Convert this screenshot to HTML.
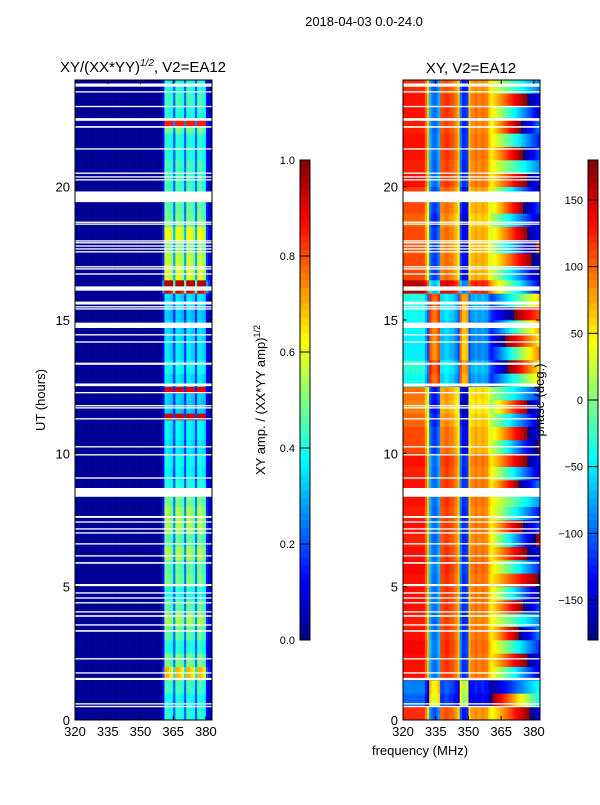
<!DOCTYPE html>
<html><head><meta charset="utf-8">
<style>
body{margin:0;background:#fff;}
svg text{font-family:"Liberation Sans","DejaVu Sans",sans-serif;fill:#000;}
</style></head>
<body>
<svg id="fig" width="600" height="800" xmlns="http://www.w3.org/2000/svg">
<rect width="600" height="800" fill="#fff"/>
<text x="364" y="26" font-size="13" text-anchor="middle">2018-04-03 0.0-24.0</text>
<text x="143" y="72" font-size="15" text-anchor="middle">XY/(XX*YY)<tspan font-size="10" dy="-6" font-style="italic">1/2</tspan><tspan dy="6">, V2=EA12</tspan></text>
<text x="471" y="73" font-size="15" text-anchor="middle">XY, V2=EA12</text>
<text transform="translate(45,400) rotate(-90)" font-size="13" text-anchor="middle">UT (hours)</text>
<text x="420" y="755" font-size="13" text-anchor="middle">frequency (MHz)</text>
<text transform="translate(265,400) rotate(-90)" font-size="13" text-anchor="middle">XY amp. / (XX*YY amp)<tspan font-size="9" dy="-5">1/2</tspan></text>
<g id="ampPanel"></g>
<g id="phasePanel"></g>
<g id="axes"></g>
<g id="cbars"></g>
<text transform="translate(544,400) rotate(-90)" font-size="13" text-anchor="middle">phase (deg.)</text>
</svg>
<script>
// frequency channels (MHz) and time bins
const freqStart = 320, freqCount = 63;           // 320..382 MHz, 1 MHz channels
// amplitude per frequency channel (relative, for band 361-382)
const ampFreq = [
0,0,0,0,0,0,0,0,0,0, 0,0,0,0,0,0,0,0,0,0, 0,0,0,0,0,0,0,0,0,0, 0,0,0,0,0,0,0,0,0,0,
0.3,1,1,0.95,0.9,0.5,1,1,0.95,0.9,0.5,1,1,0.95,0.9,0.5,1,1,0.95,0.9,0.3,0.2,0.15];
// amplitude per half-hour (0..24h) for bright band
const ampTime = [0.42,0.4,0.45,0.7,0.5,0.42,0.48,0.55,0.48,0.42,0.5,0.48,0.55,0.48,0.55,0.55,0.5,0.42,0.38,0.4,
0.36,0.38,0.38,0.33,0.34,0.36,0.4,0.36,0.36,0.35,0.33,0.36,0.92,0.6,0.58,0.52,0.62,0.5,0.48,0.45,
0.45,0.45,0.42,0.42,0.5,0.42,0.45,0.42];
// narrow bright rows [hour, amp]
const ampSpikes = [[12.35,0.9],[11.3,0.92],[16.4,0.95],[22.3,0.85]];
// background amplitude off-band
const ampBackground = 0.02;
// phase base per half-hour (deg)
const phaseTime = [120,-100,-90,130,130,135,130,125,130,130,130,135,130,125,130,125,130,130,125,130,
110,110,100,90,95,-40,-30,-50,-50,-45,-40,-35,160,110,110,105,110,100,110,115,
130,125,130,130,125,130,130,120];
// phase slope over the high band (deg per MHz), per half-hour
const phaseSlope = [8,-10,6,-9,8,-8,10,-6,9,-10,6,-8,8,-11,9,-8,-6,10,-9,8,
-10,9,-8,10,-6,8,-9,10,-8,9,-6,8,-10,-9,8,-10,9,-8,10,-9,
8,-6,9,-8,10,-9,8,-6];
// phase offset per frequency channel (deg)
const phaseFreq = [0,0,0,0,0,0,0,0,0,0,-30,-60,-200,-220,-230,-220,-200,-20,-20,-10,
-10,-20,-20,-30,-40,-60,-220,-250,-250,-240,-60,-40,-40,-30,-40,-40,-30,-40,-40,-60,
-80,-80,-80,-80,-80,-80,-80,-80,-80,-80,-80,-80,-80,-80,-80,-80,-80,-80,-80,-80,-80,-80,-80];
// flagged (white) time ranges in hours
const flags = [[23.75,23.87],[23.53,23.58],[22.98,23.03],[22.47,22.57],[22.21,22.27],[21.39,21.44],
[20.48,20.53],[20.34,20.39],[20.23,20.28],[19.42,19.82],[18.64,18.69],[18.57,18.62],
[17.94,17.99],[17.87,17.92],[17.75,17.8],[17.64,17.69],[17.53,17.58],[16.97,17.02],[16.89,16.94],
[16.7,16.75],[16.1,16.26],[15.58,15.69],[15.47,15.52],[15.39,15.44],[14.7,14.9],[14.42,14.47],
[14.15,14.2],[13.32,13.4],[12.52,12.62],[12.25,12.3],[11.76,11.81],[11.68,11.73],[11.27,11.32],
[10.22,10.27],[9.92,9.97],[9.05,9.1],[8.37,8.7],[7.58,7.65],[7.4,7.45],[7.14,7.19],[6.99,7.04],
[6.58,6.63],[6.13,6.18],[5.86,5.92],[5.02,5.1],[4.74,4.79],[4.55,4.6],[4.37,4.42],[4.03,4.08],
[3.87,3.93],[3.54,3.59],[3.31,3.37],[2.27,2.32],[1.74,1.79],[1.5,1.58],[0.58,0.63],[0.48,0.53]];
const ampTicks = [0,0.2,0.4,0.6,0.8,1.0];
const phaseTicks = [150,100,50,0,-50,-100,-150];
const xTicks = [320,335,350,365,380];
const yTicks = [0,5,10,15,20];

const NS="http://www.w3.org/2000/svg";
function mk(tag,attrs,parent){const e=document.createElementNS(NS,tag);for(const k in attrs)e.setAttribute(k,attrs[k]);parent.appendChild(e);return e;}
function jet(v){v=Math.max(0,Math.min(1,v));
 const r=Math.max(0,Math.min(1,1.5-Math.abs(4*v-3))),g=Math.max(0,Math.min(1,1.5-Math.abs(4*v-2))),b=Math.max(0,Math.min(1,1.5-Math.abs(4*v-1)));
 return `rgb(${Math.round(r*255)},${Math.round(g*255)},${Math.round(b*255)})`;}
const panels=[{x0:75,g:'ampPanel',name:'amp'},{x0:403,g:'phasePanel',name:'phase'}];
const W=137,yTop=80,yBot=720,fMin=320,fMax=382.8;
const xs=(x0,f)=>x0+(f-fMin)/(fMax-fMin)*W;
const ys=h=>yBot-h/24*(yBot-yTop);
const rowsPerHour=4;
for(const p of panels){
 const g=document.getElementById(p.g);
 for(let r=0;r<24*rowsPerHour;r++){
  const h0=r/rowsPerHour,h1=(r+1)/rowsPerHour,ti=Math.floor(h0*2);
  for(let c=0;c<freqCount;c++){
   const f=freqStart+c;let col;
   if(p.name==='amp'){
     let v=ampFreq[c]>0?ampFreq[c]*ampTime[ti]:ampBackground;
     for(const s of ampSpikes){if(s[0]>=h0&&s[0]<h1&&ampFreq[c]>0.5)v=s[1];}
     if(ampFreq[c]===0)v=ampBackground;
     col=jet(v);
   }else{
     let ph=phaseTime[ti]+phaseFreq[c]+(f>360?phaseSlope[ti]*(f-360):0);
     ph=((ph+180)%360+360)%360-180;
     col=jet((ph+180)/360);
   }
   const x=xs(p.x0,f),x2=xs(p.x0,Math.min(f+1,fMax));
   const cell=mk('rect',{x:x.toFixed(2),y:ys(h1).toFixed(2),width:(x2-x+0.3).toFixed(2),height:(ys(h0)-ys(h1)+0.3).toFixed(2),fill:col},g);
   
   
  }
 }
 for(const fl of flags){
  const fr=mk('rect',{x:p.x0,y:ys(fl[1]),width:W,height:ys(fl[0])-ys(fl[1]),fill:'#fff'},g);
  
  
 }
}
const ax=document.getElementById('axes');
for(const p of panels){
 const fr=mk('rect',{x:p.x0,y:yTop,width:W,height:yBot-yTop,fill:'none',stroke:'#000','stroke-width':1},ax);
 
 
 for(const t of xTicks){const x=xs(p.x0,t);
  mk('line',{x1:x,x2:x,y1:yBot,y2:yBot-4,stroke:'#000'},ax);mk('line',{x1:x,x2:x,y1:yTop,y2:yTop+4,stroke:'#000'},ax);
  const tl=mk('text',{x:x,y:yBot+16,'font-size':13,'text-anchor':'middle'},ax);tl.textContent=t;
  
  }
 for(const t of yTicks){const y=ys(t);
  mk('line',{x1:p.x0,x2:p.x0+4,y1:y,y2:y,stroke:'#000'},ax);mk('line',{x1:p.x0+W,x2:p.x0+W-4,y1:y,y2:y,stroke:'#000'},ax);
  const tl=mk('text',{x:p.x0-5,y:y+5,'font-size':13,'text-anchor':'end'},ax);tl.textContent=t;
  
  }
}
// colorbars
const cb=document.getElementById('cbars');
const cbs=[{x:300,name:'amp',min:0,max:1,ticks:ampTicks,fmt:v=>v.toFixed(1)},{x:588,name:'phase',min:-180,max:180,ticks:phaseTicks,fmt:v=>v<0?'\u2212'+(-v):String(v)}];
for(const c of cbs){
 const n=64;
 for(let i=0;i<n;i++){const y=640-(i+1)*480/n;
  const s=mk('rect',{x:c.x,y:y,width:10,height:480/n+0.5,fill:jet((i+0.5)/n)},cb);
  
  }
 const f=mk('rect',{x:c.x,y:160,width:10,height:480,fill:'none',stroke:'#000'},cb);
 
 
 for(const t of c.ticks){const y=640-(t-c.min)/(c.max-c.min)*480;
  mk('line',{x1:c.x,x2:c.x+10,y1:y,y2:y,stroke:'#000'},cb);
  const tl=mk('text',{x:c.x-5,y:y+4,'font-size':11,'text-anchor':'end'},cb);tl.textContent=c.fmt(t);
  
  }
}
</script>
</body></html>
